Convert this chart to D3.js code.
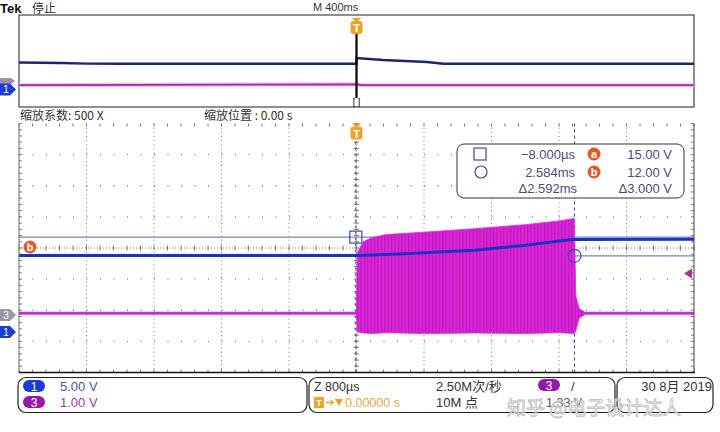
<!DOCTYPE html>
<html>
<head>
<meta charset="utf-8">
<script src="https://cdn.jsdelivr.net/npm/d3@7"></script>
<style>
  html, body { margin: 0; padding: 0; background: #fff; }
  svg { display: block; font-family: "Liberation Sans", "Noto Sans CJK SC", sans-serif; }
</style>
</head>
<body>
<svg id="scope" width="720" height="432"></svg>
<script>
// ---- data (ms, volts) ----
const ch1Scale = 5; // V/div
const ch3Scale = 1; // V/div
const ch1Offset = -2.65; // div
const ch3Offset = -2.15; // div
const triggerLevel = 1.33;

// main (zoomed) window: 800us/div
const ch1Time = [-4, 0, 0.5, 1.4, 2.0, 2.55, 4];
const ch1Volts = [12.05, 12.05, 12.3, 12.9, 13.7, 14.6, 14.65];

const ch3Time = [-4, 0, 2.7, 4];
const ch3Volts = [0.05, 0.05, 0.05, 0.05];

const burstTime = [0, 0.01, 0.08, 0.18, 0.35, 0.8, 1.4, 2.0, 2.4, 2.58, 2.6, 2.64, 2.7];
const burstTop = [0.05, 2.0, 2.35, 2.48, 2.58, 2.66, 2.77, 2.9, 3.02, 3.1, 0.6, 0.2, 0.1];
const burstBottom = [0.05, -0.55, -0.58, -0.6, -0.57, -0.6, -0.58, -0.6, -0.57, -0.6, -0.5, -0.1, 0.0];

// overview window: 400ms/div
const ovCh1Time = [-2000, -1750, -1600, -1400, 0, 0.5, 157, 418, 513, 2000];
const ovCh1Volts = [12.6, 12.4, 12.1, 12.05, 12.05, 14.5, 13.7, 12.8, 12.05, 12.05];
const ovCh3Time = [-2000, 0, 30, 2000];
const ovCh3Volts = [0.05, 0.12, 0.05, 0.05];

// cursors
const cursorTimes = [-0.008, 2.584];
const cursorVolts = [15.0, 12.0];
const readout = [
  ["\u22128.000\u00b5s", "15.00 V"],
  ["2.584ms", "12.00 V"],
  ["\u03942.592ms", "\u03943.000 V"],
];

// ---- layout ----
const svg = d3.select("#scope");
const plot = { left: 19, right: 694, top: 123.5, bottom: 372.5 };
const over = { left: 19, right: 694, top: 15, bottom: 107 };

const x = d3.scaleLinear().domain([-4, 4]).range([plot.left, plot.right]);
const yDiv = d3.scaleLinear().domain([-4, 4]).range([plot.bottom, plot.top]);
const xo = d3.scaleLinear().domain([-2000, 2000]).range([over.left, over.right]);
const yoDiv = d3.scaleLinear().domain([-4, 4]).range([over.bottom, over.top]);

const v1 = (v) => v / ch1Scale + ch1Offset;
const v3 = (v) => v / ch3Scale + ch3Offset;

const ORANGE = "#f0a12a";
const CH1 = "#1b31c4";
const CH1_DARK = "#1b2574";
const CH3 = "#e41fe4";
const TXT = "#4a4c7a";

// pattern for the burst
const defs = svg.append("defs");
const pat = defs
  .append("pattern")
  .attr("id", "stripes")
  .attr("patternUnits", "userSpaceOnUse")
  .attr("width", 3.4)
  .attr("height", 10);
pat.append("rect").attr("width", 3.4).attr("height", 10).attr("fill", CH3);
pat.append("rect").attr("width", 1.2).attr("height", 10).attr("fill", "#9c2596").attr("opacity", 0.8);

// ---- header ----
svg.append("text").attr("x", 0).attr("y", 13).attr("font-weight", "bold").attr("font-size", 13).attr("fill", "#111").text("Tek");
svg.append("text").attr("x", 32).attr("y", 13).attr("font-size", 12).attr("fill", "#333").attr("font-family", "Noto Sans CJK SC").text("停止");
svg.append("text").attr("x", 313).attr("y", 11).attr("font-size", 11).attr("fill", "#333").text("M 400ms");

// ---- overview panel ----
svg
  .append("rect")
  .attr("x", over.left)
  .attr("y", over.top)
  .attr("width", over.right - over.left)
  .attr("height", over.bottom - over.top)
  .attr("fill", "#fff")
  .attr("stroke", "#444")
  .attr("stroke-width", 1.2);

const ovLine1 = d3.line().x((d) => xo(d[0])).y((d) => yoDiv(v1(d[1])));
const ovLine3 = d3.line().x((d) => xo(d[0])).y((d) => yoDiv(v3(d[1])));

svg
  .append("path")
  .attr("d", ovLine3(d3.zip(ovCh3Time, ovCh3Volts)))
  .attr("fill", "none")
  .attr("stroke", "#f3b6f0")
  .attr("stroke-width", 4);
svg
  .append("path")
  .attr("d", ovLine3(d3.zip(ovCh3Time, ovCh3Volts)))
  .attr("fill", "none")
  .attr("stroke", "#a0309c")
  .attr("stroke-width", 1.8);
svg
  .append("path")
  .attr("d", ovLine1(d3.zip(ovCh1Time, ovCh1Volts)))
  .attr("fill", "none")
  .attr("stroke", CH1_DARK)
  .attr("stroke-width", 2.4);

// zoom window marker in overview
svg
  .append("line")
  .attr("x1", xo(0))
  .attr("x2", xo(0))
  .attr("y1", 20)
  .attr("y2", 98)
  .attr("stroke", "#000")
  .attr("stroke-width", 2.2);
svg.append("text").attr("x", xo(0)).attr("y", 105).attr("text-anchor", "middle").attr("font-size", 9).attr("fill", "#000").text("[ ]");
function triggerBadge(cx, top) {
  svg
    .append("path")
    .attr("d", `M${cx - 5},${top} L${cx + 5},${top} L${cx},${top + 4} Z`)
    .attr("fill", ORANGE);
  svg
    .append("rect")
    .attr("x", cx - 6)
    .attr("y", top + 3)
    .attr("width", 12)
    .attr("height", 13)
    .attr("rx", 3)
    .attr("fill", ORANGE);
  svg
    .append("text")
    .attr("x", cx)
    .attr("y", top + 14)
    .attr("text-anchor", "middle")
    .attr("font-size", 11)
    .attr("font-weight", "bold")
    .attr("fill", "#fff")
    .text("T");
}
triggerBadge(xo(0), 18);

// left channel tags
function chTag(yc, label, color, w) {
  svg
    .append("path")
    .attr("d", `M0,${yc - 6} L${w - 6},${yc - 6} L${w},${yc} L${w - 6},${yc + 6} L0,${yc + 6} Z`)
    .attr("fill", color);
  svg
    .append("text")
    .attr("x", (w - 6) / 2 + 1)
    .attr("y", yc + 4)
    .attr("text-anchor", "middle")
    .attr("font-size", 10)
    .attr("fill", "#fff")
    .text(label);
}
svg
  .append("path")
  .attr("d", `M0,78 L11,78 L15,81 L11,84 L0,84 Z`)
  .attr("fill", "#a58cb0");
chTag(yoDiv(ch1Offset) - 2, "1", "#1c3ed8", 16);

svg.append("text").attr("x", 20).attr("y", 120).attr("font-size", 12).attr("fill", "#333").attr("font-family", "Noto Sans CJK SC").text("缩放系数: 500 X");
svg.append("text").attr("x", 204).attr("y", 120).attr("font-size", 12).attr("fill", "#333").attr("font-family", "Noto Sans CJK SC").text("缩放位置 : 0.00 s");

// ---- main graticule ----
svg
  .append("rect")
  .attr("x", plot.left)
  .attr("y", plot.top)
  .attr("width", plot.right - plot.left)
  .attr("height", plot.bottom - plot.top)
  .attr("fill", "#fff");

const grid = svg.append("g").attr("stroke", "#7a7a7a");
d3.range(1, 10).forEach((i) => {
  const t = -4 + i * 0.8;
  if (i === 5) return;
  grid
    .append("line")
    .attr("x1", x(t))
    .attr("x2", x(t))
    .attr("y1", plot.top)
    .attr("y2", plot.bottom)
    .attr("stroke-dasharray", "1,3.15");
});
d3.range(1, 8).forEach((j) => {
  const d = -4 + j;
  if (d === 0) return;
  grid
    .append("line")
    .attr("x1", plot.left)
    .attr("x2", plot.right)
    .attr("y1", yDiv(d))
    .attr("y2", yDiv(d))
    .attr("stroke-dasharray", "1,12.5")
    .attr("stroke-width", 1.4);
});
// centre cross with minor ticks
grid
  .append("line")
  .attr("x1", plot.left)
  .attr("x2", plot.right)
  .attr("y1", yDiv(0))
  .attr("y2", yDiv(0))
  .attr("stroke-dasharray", "1,2");
grid
  .append("line")
  .attr("x1", x(0))
  .attr("x2", x(0))
  .attr("y1", plot.top)
  .attr("y2", plot.bottom)
  .attr("stroke-dasharray", "1,2");
const minorX = d3.range(0, 51).map((k) => -4 + k * 0.16);
const minorY = d3.range(0, 41).map((k) => -4 + k * 0.2);
grid
  .selectAll("line.mx")
  .data(minorX)
  .join("line")
  .attr("class", "mx")
  .attr("x1", (d) => x(d))
  .attr("x2", (d) => x(d))
  .attr("y1", yDiv(0) - 2.5)
  .attr("y2", yDiv(0) + 2.5);
grid
  .selectAll("line.mxb")
  .data(minorX)
  .join("line")
  .attr("class", "mxb")
  .attr("x1", (d) => x(d))
  .attr("x2", (d) => x(d))
  .attr("y1", plot.bottom - 3)
  .attr("y2", plot.bottom);
grid
  .selectAll("line.mxt")
  .data(minorX)
  .join("line")
  .attr("class", "mxt")
  .attr("x1", (d) => x(d))
  .attr("x2", (d) => x(d))
  .attr("y1", plot.top)
  .attr("y2", plot.top + 3);
grid
  .selectAll("line.my")
  .data(minorY)
  .join("line")
  .attr("class", "my")
  .attr("x1", x(0) - 2.5)
  .attr("x2", x(0) + 2.5)
  .attr("y1", (d) => yDiv(d))
  .attr("y2", (d) => yDiv(d));
grid
  .selectAll("line.myl")
  .data(minorY)
  .join("line")
  .attr("class", "myl")
  .attr("x1", plot.left)
  .attr("x2", plot.left + 3)
  .attr("y1", (d) => yDiv(d))
  .attr("y2", (d) => yDiv(d));
grid
  .selectAll("line.myr")
  .data(minorY)
  .join("line")
  .attr("class", "myr")
  .attr("x1", plot.right - 3)
  .attr("x2", plot.right)
  .attr("y1", (d) => yDiv(d))
  .attr("y2", (d) => yDiv(d));

// ---- cursors ----
const CUR = "#7d84b6";
cursorVolts.forEach((v) => {
  svg
    .append("line")
    .attr("x1", plot.left)
    .attr("x2", plot.right)
    .attr("y1", yDiv(v1(v)))
    .attr("y2", yDiv(v1(v)))
    .attr("stroke", CUR)
    .attr("stroke-width", 1.3);
});
cursorTimes.forEach((t) => {
  svg
    .append("line")
    .attr("x1", x(t))
    .attr("x2", x(t))
    .attr("y1", plot.top)
    .attr("y2", plot.bottom)
    .attr("stroke", "#3d4a9c")
    .attr("stroke-width", 1.1)
    .attr("stroke-dasharray", "3,3");
});

// ---- waveforms ----
const line1 = d3.line().x((d) => x(d[0])).y((d) => yDiv(v1(d[1])));
const line3 = d3.line().x((d) => x(d[0])).y((d) => yDiv(v3(d[1])));
const burstArea = d3
  .area()
  .x((d) => x(d[0]))
  .y0((d) => yDiv(v3(d[2])))
  .y1((d) => yDiv(v3(d[1])));

svg
  .append("path")
  .attr("d", line3(d3.zip(ch3Time, ch3Volts)))
  .attr("fill", "none")
  .attr("stroke", "#d22ad2")
  .attr("stroke-width", 3);
svg
  .append("path")
  .attr("d", burstArea(d3.zip(burstTime, burstTop, burstBottom)))
  .attr("fill", "url(#stripes)")
  .attr("stroke", CH3)
  .attr("stroke-width", 0.8);

svg
  .append("path")
  .attr("d", line1(d3.zip(ch1Time, ch1Volts)))
  .attr("fill", "none")
  .attr("stroke", CH1)
  .attr("stroke-width", 3);

// cursor handles
svg
  .append("rect")
  .attr("x", x(cursorTimes[0]) - 6)
  .attr("y", yDiv(v1(cursorVolts[0])) - 6)
  .attr("width", 12)
  .attr("height", 12)
  .attr("fill", "none")
  .attr("stroke", "#3d4a9c")
  .attr("stroke-width", 1.2);
svg
  .append("circle")
  .attr("cx", x(cursorTimes[1]))
  .attr("cy", yDiv(v1(cursorVolts[1])))
  .attr("r", 6.5)
  .attr("fill", "none")
  .attr("stroke", "#3d4a9c")
  .attr("stroke-width", 1.2);

// "b" cursor tag
function letterBadge(cx, cy, label) {
  svg.append("circle").attr("cx", cx).attr("cy", cy).attr("r", 6.5).attr("fill", "#e0592a");
  svg
    .append("text")
    .attr("x", cx)
    .attr("y", cy + 4)
    .attr("text-anchor", "middle")
    .attr("font-size", 11)
    .attr("font-weight", "bold")
    .attr("fill", "#fff")
    .text(label);
}
letterBadge(30, 247, "b");

triggerBadge(x(0), plot.top);

// trigger level arrow
const ty = yDiv(v3(triggerLevel));
svg
  .append("path")
  .attr("d", `M684,${ty} L692,${ty - 5} L692,${ty + 5} Z`)
  .attr("fill", "#a0309c");

// main left tags
chTag(yDiv(ch3Offset), "3", "#9a96a6", 16);
chTag(yDiv(ch1Offset) + 1.5, "1", "#1c3ed8", 16);

// main border
svg
  .append("line")
  .attr("x1", plot.left)
  .attr("x2", plot.left)
  .attr("y1", plot.top)
  .attr("y2", plot.bottom)
  .attr("stroke", "#666");
svg
  .append("line")
  .attr("x1", plot.right)
  .attr("x2", plot.right)
  .attr("y1", plot.top)
  .attr("y2", plot.bottom)
  .attr("stroke", "#444");
svg
  .append("line")
  .attr("x1", plot.left)
  .attr("x2", plot.right + 1)
  .attr("y1", plot.bottom)
  .attr("y2", plot.bottom)
  .attr("stroke", "#111")
  .attr("stroke-width", 1.6);

// ---- readout box ----
svg
  .append("rect")
  .attr("x", 457)
  .attr("y", 144)
  .attr("width", 227)
  .attr("height", 54)
  .attr("rx", 7)
  .attr("fill", "#fff")
  .attr("stroke", "#333")
  .attr("stroke-width", 1);
svg.append("rect").attr("x", 474).attr("y", 148).attr("width", 12).attr("height", 12).attr("fill", "none").attr("stroke", "#3d4a9c").attr("stroke-width", 1.2);
svg.append("circle").attr("cx", 481).attr("cy", 172).attr("r", 6).attr("fill", "none").attr("stroke", "#3d4a9c").attr("stroke-width", 1.2);
letterBadge(594, 154, "a");
letterBadge(594, 172, "b");
const rowY = [159, 177, 193];
readout.forEach((r, i) => {
  svg
    .append("text")
    .attr("x", i === 2 ? 577 : 575)
    .attr("y", rowY[i])
    .attr("text-anchor", "end")
    .attr("font-size", 13)
    .attr("fill", TXT)
    .text(r[0]);
  svg
    .append("text")
    .attr("x", 672)
    .attr("y", rowY[i])
    .attr("text-anchor", "end")
    .attr("font-size", 13)
    .attr("fill", TXT)
    .text(r[1]);
});

// ---- status bar ----
const boxes = [
  [18, 289],
  [309, 306],
  [617, 96],
];
boxes.forEach((b) => {
  svg
    .append("rect")
    .attr("x", b[0])
    .attr("y", 377.5)
    .attr("width", b[1])
    .attr("height", 35)
    .attr("rx", 8)
    .attr("fill", "#fff")
    .attr("stroke", "#222")
    .attr("stroke-width", 1.2);
});
function pill(cx, cy, label, color) {
  svg
    .append("rect")
    .attr("x", cx - 11)
    .attr("y", cy - 6)
    .attr("width", 22)
    .attr("height", 12)
    .attr("rx", 6)
    .attr("fill", color);
  svg
    .append("text")
    .attr("x", cx)
    .attr("y", cy + 4.5)
    .attr("text-anchor", "middle")
    .attr("font-size", 12)
    .attr("fill", "#fff")
    .text(label);
}
pill(34, 386, "1", "#1a3bd6");
pill(34, 402, "3", "#9618a8");
svg.append("text").attr("x", 60).attr("y", 391).attr("font-size", 13).attr("fill", "#4a55a8").text(ch1Scale.toFixed(2) + " V");
svg.append("text").attr("x", 60).attr("y", 407).attr("font-size", 13).attr("fill", "#9a3aa6").text(ch3Scale.toFixed(2) + " V");

svg.append("text").attr("x", 314).attr("y", 391).attr("font-size", 12.5).attr("fill", "#333").text("Z 800\u00b5s");
svg.append("rect").attr("x", 314).attr("y", 397).attr("width", 10).attr("height", 11).attr("fill", ORANGE);
svg.append("text").attr("x", 319).attr("y", 406).attr("text-anchor", "middle").attr("font-size", 9).attr("font-weight", "bold").attr("fill", "#fff").text("T");
svg.append("path").attr("d", "M326,402.5 L333,402.5 M330.5,400 L333.5,402.5 L330.5,405").attr("stroke", ORANGE).attr("stroke-width", 1.3).attr("fill", "none");
svg.append("path").attr("d", "M335,399 L343,399 L339,406 Z").attr("fill", ORANGE);
svg.append("text").attr("x", 345).attr("y", 407).attr("font-size", 12.5).attr("fill", "#e6a648").text("0.00000 s");

svg.append("text").attr("x", 436).attr("y", 391).attr("font-size", 13).attr("fill", "#333").attr("font-family", "Liberation Sans, Noto Sans CJK SC").text("2.50M次/秒");
svg.append("text").attr("x", 436).attr("y", 407).attr("font-size", 13).attr("fill", "#333").attr("font-family", "Liberation Sans, Noto Sans CJK SC").text("10M 点");
pill(549, 385, "3", "#9618a8");
svg.append("text").attr("x", 571).attr("y", 391).attr("font-size", 13).attr("fill", "#333").text("/");
svg.append("text").attr("x", 546).attr("y", 407).attr("font-size", 12.5).attr("fill", "#555").text(triggerLevel.toFixed(2) + " V");

svg.append("text").attr("x", 712).attr("y", 391).attr("text-anchor", "end").attr("font-size", 13).attr("fill", "#333").attr("font-family", "Liberation Sans, Noto Sans CJK SC").text("30 8月 2019");

// watermark
svg
  .append("text")
  .attr("x", 507)
  .attr("y", 415)
  .attr("font-size", 19)
  .attr("font-family", "Noto Sans CJK SC")
  .attr("fill", "#ffffff")
  .attr("fill-opacity", 0.7)
  .attr("stroke", "#bdbdbd")
  .attr("stroke-width", 0.8)
  .text("知乎 @电子设计达人");
</script>
</body>
</html>
